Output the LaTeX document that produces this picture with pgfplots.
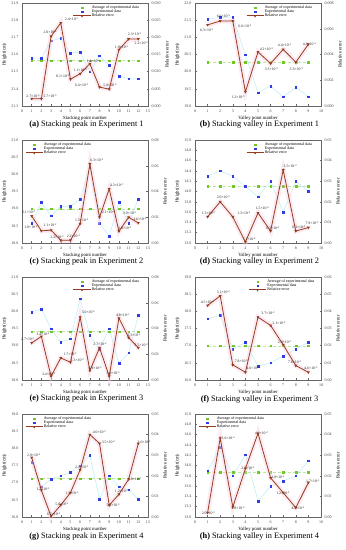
\documentclass[border=0pt]{standalone}
\usepackage{fontspec}
\setmainfont{Liberation Serif}
\usepackage{pgfplots}
\pgfplotsset{compat=1.18}
\definecolor{avgc}{RGB}{110,200,40}
\definecolor{expc}{RGB}{50,60,230}
\definecolor{relc}{RGB}{150,60,30}
\definecolor{cyl}{RGB}{185,235,245}
\definecolor{pkl}{RGB}{250,210,228}
\newcommand{\E}[2]{#1×10\raisebox{1pt}{\fontsize{2.7}{3}\selectfont#2}}
\newcommand{\lb}[3]{\node[font=\fontsize{3.8}{4}\selectfont, inner sep=0pt, text=black!85] at (axis cs:#1,#2) {#3};}
\pgfplotsset{
  base/.style={scale only axis, width=126pt, height=103pt, anchor=south west,
    tick label style={font=\fontsize{4}{4}\selectfont, text=black!75},
    label style={font=\fontsize{4.8}{5}\selectfont},
    /pgf/number format/assume math mode=true,
    scaled y ticks=false, scaled x ticks=false,
    axis line style={black!60, line width=0.6pt},
    major tick length=1.5pt, tick style={black!60, line width=0.4pt},
    xtick pos=bottom},
  lft/.style={base, ylabel={Height(cm)}, ylabel style={yshift=-2pt}, xlabel style={yshift=2.5pt},
    ytick pos=left,
    yticklabel style={/pgf/number format/.cd, fixed, fixed zerofill, precision=1}},
  rgt/.style={base, axis y line*=right, axis x line=none, clip=false,
    ylabel={Relative error}, ylabel style={yshift=2pt},
    legend style={draw=none, fill=none, font=\fontsize{4}{4.5}\selectfont, anchor=north west,
      row sep=-1.8pt, inner sep=0.5pt, nodes={inner sep=0.8pt}},
    legend cell align=left},
  p3/.style={yticklabel style={/pgf/number format/.cd, fixed, fixed zerofill, precision=3}},
  p2/.style={yticklabel style={/pgf/number format/.cd, fixed, fixed zerofill, precision=2}},
  avgp/.style={draw=avgc!45, densely dashed, line width=0.3pt, mark=square*, mark size=0.85pt,
    mark options={solid, fill=avgc, draw=avgc}},
  expp/.style={draw=cyl, line width=0.5pt, mark=square*, mark size=0.85pt,
    mark options={fill=expc, draw=expc}},
  relp/.style={draw=relc, line width=0.8pt, mark=triangle*, mark size=0.9pt,
    mark options={fill=relc, draw=relc, rotate=180}},
  band/.style={draw=pkl, line width=5pt, opacity=0.45, no marks},
}
\newcommand{\leg}{%
  \addlegendimage{only marks, mark=square*, mark size=0.85pt, avgc}\addlegendentry{Average of experimental data}
  \addlegendimage{only marks, mark=square*, mark size=0.85pt, expc}\addlegendentry{Experimental data}
  \addlegendimage{relp}\addlegendentry{Relative error}}
\begin{document}
\begin{tikzpicture}
\useasboundingbox (0pt,0pt) rectangle (346pt,550pt);
% ---------------- (a)
\begin{axis}[lft, at={(22pt,444pt)}, xmin=0, xmax=13, xtick={0,...,13}, ymin=21.3, ymax=21.9,
  ytick={21.3,21.4,21.5,21.6,21.7,21.8,21.9}, xlabel={Stacking point number}]
\addplot[avgp] coordinates {(1,21.565)(2,21.565)(3,21.565)(4,21.565)(5,21.565)(6,21.565)(7,21.565)(8,21.565)(9,21.565)(10,21.565)(11,21.565)(12,21.565)};
\addplot[expp] coordinates {(1,21.579)(2,21.579)(3,21.68)(4,21.695)(5,21.608)(6,21.614)(7,21.50)(8,21.592)(9,21.538)(10,21.475)(11,21.458)(12,21.458)};
\end{axis}
\begin{axis}[rgt, p3, at={(22pt,444pt)}, xmin=0, xmax=13, ymin=0, ymax=0.030,
  ytick={0,0.005,0.010,0.015,0.020,0.025,0.030}, legend style={at={(0.40,0.99)}}]
\leg
\addplot[band, forget plot] coordinates {(1,0.0021)(2,0.0021)(3,0.0203)(4,0.0242)(5,0.0078)(6,0.0094)(7,0.0123)(8,0.0055)(9,0.0049)(10,0.0164)(11,0.0195)(12,0.0195)};
\addplot[relp, forget plot] coordinates {(1,0.0021)(2,0.0021)(3,0.0203)(4,0.0242)(5,0.0078)(6,0.0094)(7,0.0123)(8,0.0055)(9,0.0049)(10,0.0164)(11,0.0195)(12,0.0195)};
\lb{1.13}{0.0030}{\E{2.7}{-3}}\lb{2.9}{0.0030}{\E{2.7}{-3}}\lb{2.9}{0.0214}{\E{2.0}{-2}}
\lb{5.1}{0.0254}{\E{2.4}{-2}}\lb{4.2}{0.0088}{\E{8.1}{-3}}\lb{6.0}{0.0105}{\E{1.1}{-2}}
\lb{7.35}{0.0131}{\E{1.4}{-2}}\lb{6.15}{0.0061}{\E{6.4}{-3}}\lb{9.07}{0.0061}{\E{5.0}{-3}}
\lb{10.26}{0.017}{\E{1.9}{-2}}\lb{11.6}{0.021}{\E{2.3}{-2}}\lb{12.3}{0.0183}{\E{2.2}{-2}}
\end{axis}
% ---------------- (b)
\begin{axis}[lft, at={(195pt,444pt)}, xmin=0, xmax=10, xtick={0,...,10}, ymin=19, ymax=22,
  ytick={19,19.5,20,20.5,21,21.5,22}, xlabel={Valley point number}]
\addplot[avgp] coordinates {(1,20.27)(2,20.27)(3,20.27)(4,20.27)(5,20.27)(6,20.27)(7,20.27)(8,20.27)(9,20.27)};
\addplot[expp] coordinates {(1,21.53)(2,21.58)(3,21.59)(4,20.49)(5,19.39)(6,19.58)(7,19.27)(8,19.54)(9,19.27)};
\end{axis}
\begin{axis}[rgt, p3, at={(195pt,444pt)}, xmin=0, xmax=10, ymin=0, ymax=0.008,
  ytick={0,0.002,0.004,0.006,0.008}, legend style={at={(0.40,0.99)}}]
\leg
\addplot[band, forget plot] coordinates {(1,0.0063)(2,0.0066)(3,0.0066)(4,0.0011)(5,0.0042)(6,0.0033)(7,0.0044)(8,0.0034)(9,0.0048)};
\addplot[relp, forget plot] coordinates {(1,0.0063)(2,0.0066)(3,0.0066)(4,0.0011)(5,0.0042)(6,0.0033)(7,0.0044)(8,0.0034)(9,0.0048)};
\lb{0.92}{0.0059}{\E{6.3}{-3}}\lb{2.24}{0.0070}{\E{6.6}{-3}}\lb{3.95}{0.0062}{\E{6.6}{-3}}
\lb{3.42}{0.0007}{\E{1.2}{-3}}\lb{5.66}{0.0044}{\E{4.2}{-3}}\lb{6.05}{0.0029}{\E{3.3}{-3}}
\lb{7.1}{0.0047}{\E{4.4}{-3}}\lb{8.03}{0.0029}{\E{3.3}{-3}}\lb{9.08}{0.0048}{\E{4.8}{-3}}
\end{axis}
% ---------------- (c)
\begin{axis}[lft, at={(22pt,307pt)}, xmin=0, xmax=13, xtick={0,...,13}, ymin=18, ymax=21,
  ytick={18,18.5,19,19.5,20,20.5,21}, xlabel={Stacking point number}]
\addplot[avgp] coordinates {(1,19)(2,19)(3,19)(4,19)(5,19)(6,19)(7,19)(8,19)(9,19)(10,19)(11,19)(12,19)};
\addplot[expp] coordinates {(1,18.58)(2,19.18)(3,18.79)(4,19.07)(5,19.07)(6,19.28)(7,20.2)(8,18.58)(9,18.2)(10,19.18)(11,18.58)(12,19.28)};
\end{axis}
\begin{axis}[rgt, p2, at={(22pt,307pt)}, xmin=0, xmax=13, ymin=0, ymax=0.08,
  ytick={0,0.02,0.04,0.06,0.08}, legend style={at={(0.02,0.99)}}]
\leg
\addplot[band, forget plot] coordinates {(1,0.021)(2,0.0094)(3,0.010)(4,0.0021)(5,0.0021)(6,0.015)(7,0.0613)(8,0.020)(9,0.042)(10,0.0091)(11,0.020)(12,0.0156)};
\addplot[relp, forget plot] coordinates {(1,0.021)(2,0.0094)(3,0.010)(4,0.0021)(5,0.0021)(6,0.015)(7,0.0613)(8,0.020)(9,0.042)(10,0.0091)(11,0.020)(12,0.0156)};
\lb{0.68}{0.0242}{\E{2.1}{-2}}\lb{0.92}{0.0125}{\E{1.0}{-2}}\lb{2.9}{0.0138}{\E{1.1}{-2}}
\lb{3.6}{0.0047}{\E{2.2}{-3}}\lb{5.3}{0.0052}{\E{2.2}{-3}}\lb{6.16}{0.0177}{\E{1.5}{-2}}
\lb{7.7}{0.0644}{\E{6.3}{-2}}\lb{8.9}{0.0242}{\E{2.1}{-2}}\lb{9.75}{0.0449}{\E{4.3}{-2}}
\lb{10.6}{0.0119}{\E{1.0}{-2}}\lb{11.1}{0.0234}{\E{2.0}{-2}}\lb{12.15}{0.0182}{\E{1.6}{-2}}
\end{axis}
% ---------------- (d)
\begin{axis}[lft, at={(195pt,307pt)}, xmin=0, xmax=10, xtick={0,...,10}, ymin=13, ymax=15,
  ytick={13,13.2,13.4,13.6,13.8,14,14.2,14.4,14.6,14.8,15}, xlabel={Valley point number}]
\addplot[avgp] coordinates {(1,14.1)(2,14.1)(3,14.1)(4,14.1)(5,14.1)(6,14.1)(7,14.1)(8,14.1)(9,14.1)};
\addplot[expp] coordinates {(1,14.3)(2,14.4)(3,14.3)(4,14.1)(5,13.9)(6,14.2)(7,13.6)(8,14.2)(9,14.0)};
\end{axis}
\begin{axis}[rgt, p2, at={(195pt,307pt)}, xmin=0, xmax=10, ymin=0, ymax=0.05,
  ytick={0,0.01,0.02,0.03,0.04,0.05}, legend style={at={(0.40,0.99)}}]
\leg
\addplot[band, forget plot] coordinates {(1,0.0127)(2,0.020)(3,0.0127)(4,0.0005)(5,0.0146)(6,0.0058)(7,0.0354)(8,0.0058)(9,0.0075)};
\addplot[relp, forget plot] coordinates {(1,0.0127)(2,0.020)(3,0.0127)(4,0.0005)(5,0.0146)(6,0.0058)(7,0.0354)(8,0.0058)(9,0.0075)};
\lb{1.05}{0.0146}{\E{1.3}{-2}}\lb{2.24}{0.0224}{\E{2.0}{-2}}\lb{3.87}{0.0146}{\E{1.3}{-2}}
\lb{4.29}{0.0021}{\E{7.1}{-4}}\lb{5.34}{0.0167}{\E{1.5}{-2}}\lb{6.18}{0.0070}{\E{6.3}{-3}}
\lb{7.55}{0.0373}{\E{3.5}{-2}}\lb{8.24}{0.0078}{\E{6.3}{-3}}\lb{9.29}{0.0097}{\E{7.9}{-3}}
\end{axis}
% ---------------- (e)
\begin{axis}[lft, at={(22pt,170pt)}, xmin=0, xmax=13, xtick={0,...,13}, ymin=18, ymax=21,
  ytick={18,18.5,19,19.5,20,20.5,21}, xlabel={Stacking point number}]
\addplot[avgp] coordinates {(1,19.41)(2,19.41)(3,19.41)(4,19.41)(5,19.41)(6,19.41)(7,19.41)(8,19.41)(9,19.41)(10,19.41)(11,19.41)(12,19.41)};
\addplot[expp] coordinates {(1,19.98)(2,20.07)(3,19.49)(4,19.10)(5,19.2)(6,20.37)(7,19.3)(8,18.9)(9,19.49)(10,18.49)(11,18.79)(12,19.88)};
\end{axis}
\begin{axis}[rgt, p2, at={(22pt,170pt)}, xmin=0, xmax=13, ymin=0, ymax=0.08,
  ytick={0,0.02,0.04,0.06,0.08}, legend style={at={(0.40,0.99)}}]
\leg
\addplot[band, forget plot] coordinates {(1,0.0288)(2,0.0338)(3,0.0029)(4,0.0171)(5,0.0138)(6,0.0488)(7,0.0073)(8,0.025)(9,0.0029)(10,0.048)(11,0.033)(12,0.025)};
\addplot[relp, forget plot] coordinates {(1,0.0288)(2,0.0338)(3,0.0029)(4,0.0171)(5,0.0138)(6,0.0488)(7,0.0073)(8,0.025)(9,0.0029)(10,0.048)(11,0.033)(12,0.025)};
\lb{0.58}{0.0314}{\E{2.7}{-2}}\lb{2.15}{0.0358}{\E{3.4}{-2}}\lb{2.74}{0.0047}{\E{3.4}{-3}}
\lb{4.96}{0.0203}{\E{1.7}{-2}}\lb{5.7}{0.0151}{\E{1.3}{-2}}\lb{6.84}{0.0527}{\E{5.0}{-2}}
\lb{7.53}{0.0094}{\E{6.9}{-3}}\lb{8.04}{0.028}{\E{2.7}{-2}}\lb{9.4}{0.0052}{\E{3.4}{-3}}
\lb{10.37}{0.0501}{\E{4.8}{-2}}\lb{11.53}{0.0351}{\E{3.3}{-2}}\lb{12.3}{0.0273}{\E{2.5}{-2}}
\end{axis}
% ---------------- (f)
\begin{axis}[lft, at={(195pt,170pt)}, xmin=0, xmax=10, xtick={0,...,10}, ymin=16, ymax=19,
  ytick={16,16.5,17,17.5,18,18.5,19}, xlabel={Valley point number}]
\addplot[avgp] coordinates {(1,17)(2,17)(3,17)(4,17)(5,17)(6,17)(7,17)(8,17)(9,17)};
\addplot[expp] coordinates {(1,17.78)(2,17.88)(3,16.9)(4,17.1)(5,16.4)(6,16.5)(7,16.7)(8,16.9)(9,17.1)};
\end{axis}
\begin{axis}[rgt, p2, at={(195pt,170pt)}, xmin=0, xmax=10, ymin=0, ymax=0.06,
  ytick={0,0.01,0.02,0.03,0.04,0.05,0.06}, legend style={at={(0.42,0.99)}}]
\leg
\addplot[band, forget plot] coordinates {(1,0.0434)(2,0.049)(3,0.0088)(4,0.0045)(5,0.0366)(6,0.0318)(7,0.0205)(8,0.0084)(9,0.0045)};
\addplot[relp, forget plot] coordinates {(1,0.0434)(2,0.049)(3,0.0088)(4,0.0045)(5,0.0366)(6,0.0318)(7,0.0205)(8,0.0084)(9,0.0045)};
\lb{0.97}{0.0454}{\E{4.5}{-2}}\lb{2.24}{0.0512}{\E{5.1}{-2}}\lb{3.68}{0.0109}{\E{7.8}{-3}}
\lb{4.6}{0.0070}{\E{4.6}{-3}}\lb{5.79}{0.039}{\E{3.7}{-2}}\lb{6.66}{0.0331}{\E{3.1}{-2}}
\lb{7.1}{0.022}{\E{2.0}{-2}}\lb{7.9}{0.0103}{\E{7.8}{-3}}\lb{9.2}{0.0068}{\E{4.6}{-3}}
\end{axis}
% ---------------- (g)
\begin{axis}[lft, at={(22pt,33pt)}, xmin=0, xmax=13, xtick={0,...,13}, ymin=16, ymax=19,
  ytick={16,16.5,17,17.5,18,18.5,19}, xlabel={Stacking point number}]
\addplot[avgp] coordinates {(1,17.12)(2,17.12)(3,17.12)(4,17.12)(5,17.12)(6,17.12)(7,17.12)(8,17.12)(9,17.12)(10,17.12)(11,17.12)(12,17.12)};
\addplot[expp] coordinates {(1,17.59)(2,16.88)(3,17.1)(4,17.2)(5,17.3)(6,17.49)(7,17.8)(8,16.52)(9,17.2)(10,16.88)(11,16.79)(12,16.52)};
\end{axis}
\begin{axis}[rgt, p2, at={(22pt,33pt)}, xmin=0, xmax=13, ymin=0, ymax=0.05,
  ytick={0,0.01,0.02,0.03,0.04,0.05}, legend style={at={(0.02,0.99)}}]
\leg
\addplot[band, forget plot] coordinates {(1,0.0289)(2,0.013)(3,0.0003)(4,0.0058)(5,0.0118)(6,0.0229)(7,0.040)(8,0.0357)(9,0.0057)(10,0.011)(11,0.0183)(12,0.0357)};
\addplot[relp, forget plot] coordinates {(1,0.0289)(2,0.013)(3,0.0003)(4,0.0058)(5,0.0118)(6,0.0229)(7,0.040)(8,0.0357)(9,0.0057)(10,0.011)(11,0.0183)(12,0.0357)};
\lb{1.2}{0.030}{\E{2.8}{-2}}\lb{2.15}{0.0136}{\E{1.2}{-2}}\lb{3.25}{0.0016}{\E{6.5}{-4}}
\lb{4.1}{0.0062}{\E{5.8}{-3}}\lb{5.13}{0.0118}{\E{1.1}{-2}}\lb{6.16}{0.024}{\E{2.3}{-2}}
\lb{7.97}{0.041}{\E{4.0}{-2}}\lb{8.9}{0.0362}{\E{3.5}{-2}}\lb{9.4}{0.0057}{\E{5.8}{-3}}
\lb{10.26}{0.0127}{\E{1.2}{-2}}\lb{11.6}{0.0183}{\E{1.8}{-2}}\lb{12.6}{0.0362}{\E{3.6}{-2}}
\end{axis}
% ---------------- (h)
\begin{axis}[lft, at={(195pt,33pt)}, xmin=0, xmax=10, xtick={0,...,10}, ymin=13, ymax=15,
  ytick={13,13.2,13.4,13.6,13.8,14,14.2,14.4,14.6,14.8,15}, xlabel={Valley point number}]
\addplot[avgp] coordinates {(1,13.87)(2,13.87)(3,13.87)(4,13.87)(5,13.87)(6,13.87)(7,13.87)(8,13.87)(9,13.87)};
\addplot[expp] coordinates {(1,13.9)(2,14.35)(3,13.8)(4,14.21)(5,13.31)(6,13.6)(7,13.7)(8,13.8)(9,14.09)};
\end{axis}
\begin{axis}[rgt, p2, at={(195pt,33pt)}, xmin=0, xmax=10, ymin=0, ymax=0.05,
  ytick={0,0.01,0.02,0.03,0.04,0.05}, legend style={at={(0.02,0.99)}}]
\leg
\addplot[band, forget plot] coordinates {(1,0.0021)(2,0.0383)(3,0.0049)(4,0.0235)(5,0.0406)(6,0.019)(7,0.0118)(8,0.0045)(9,0.0167)};
\addplot[relp, forget plot] coordinates {(1,0.0021)(2,0.0383)(3,0.0049)(4,0.0235)(5,0.0406)(6,0.019)(7,0.0118)(8,0.0045)(9,0.0167)};
\lb{1.05}{0.0021}{\E{2.0}{-3}}\lb{2.63}{0.0383}{\E{3.6}{-2}}\lb{3.42}{0.0045}{\E{4.9}{-3}}
\lb{4.2}{0.0237}{\E{2.5}{-2}}\lb{5.26}{0.0406}{\E{4.0}{-2}}\lb{6.58}{0.0192}{\E{1.8}{-2}}
\lb{6.97}{0.0118}{\E{1.2}{-2}}\lb{8.16}{0.0045}{\E{4.5}{-3}}\lb{9.34}{0.0172}{\E{1.7}{-2}}
\end{axis}
% captions
\begin{scope}[font=\fontsize{8.3}{9}\selectfont]
\node at (86.5pt,425pt) {\textbf{(a)} Stacking peak in Experiment 1};
\node at (259.5pt,425pt) {\textbf{(b)} Stacking valley in Experiment 1};
\node at (86.5pt,288pt) {\textbf{(c)} Stacking peak in Experiment 2};
\node at (259.5pt,288pt) {\textbf{(d)} Stacking valley in Experiment 2};
\node at (86.5pt,151pt) {\textbf{(e)} Stacking peak in Experiment 3};
\node at (259.5pt,151pt) {\textbf{(f)} Stacking valley in Experiment 3};
\node at (86.5pt,13pt) {\textbf{(g)} Stacking peak in Experiment 4};
\node at (259.5pt,13pt) {\textbf{(h)} Stacking valley in Experiment 4};
\end{scope}
\end{tikzpicture}
\end{document}
